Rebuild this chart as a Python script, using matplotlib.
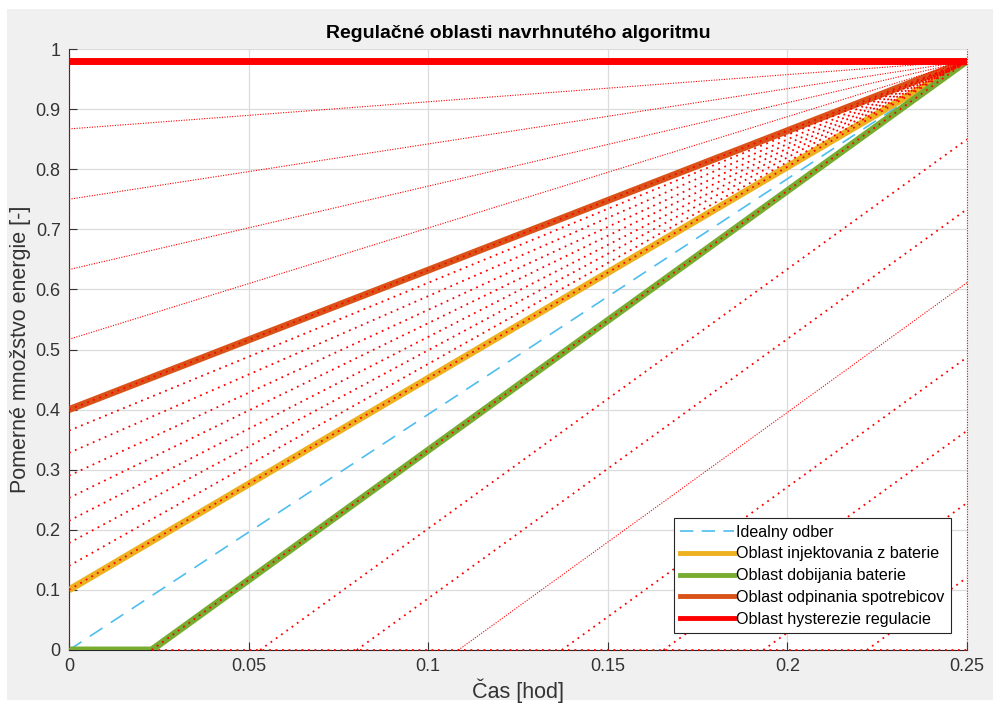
import numpy as np
import matplotlib.pyplot as plt
from matplotlib.patches import Rectangle

plt.rcParams['font.family'] = ['Liberation Sans', 'DejaVu Sans']

# end point of every region (time, energy)
t_end = 0.25
e_max = 0.98

# thick region borders
ideal_start = 0.0           # energy at t = 0
inject_start = 0.10         # energy at t = 0
disconnect_start = 0.40     # energy at t = 0
charge_t0 = 0.023           # time where charging line leaves zero

# dotted helper lines from the left edge (energy at t = 0)
fan_fine = [0.517, 0.633, 0.75, 0.867]
fan_coarse = [0.10, 0.14, 0.178, 0.215, 0.253, 0.29, 0.328, 0.365]

# dotted helper lines from the bottom edge (time at energy = 0), parallel to charging line
charge_fine = [0.1084]
charge_coarse = [0.023, 0.0532, 0.0801, 0.1372, 0.1655, 0.1933, 0.2221]

legend_labels = ['Idealny odber', 'Oblast injektovania z baterie', 'Oblast dobijania baterie',
                 'Oblast odpinania spotrebicov', 'Oblast hysterezie regulacie']

fig = plt.figure(figsize=(9.93, 7.04), dpi=100, facecolor='white')
fig.patches.append(Rectangle((7 / 993, 4 / 704), 1, 1 - 13 / 704, transform=fig.transFigure,
                             facecolor='#f0f0f0', edgecolor='none', zorder=-10))
ax = fig.add_axes([69 / 993, 1 - 650 / 704, 898 / 993, 601 / 704])
ax.set_facecolor('white')
ax.set_zorder(1)

fine = (0, (1, 1.3))
coarse = (0, (1, 2.6))
red = '#ff0000'
charge_slope = e_max / (t_end - charge_t0)

# thick lines
ax.plot([0, t_end], [ideal_start, e_max], color='#4dbeee', lw=1.2, ls=(0, (9, 6)), zorder=3)
ax.plot([0, t_end], [inject_start, e_max], color='#edb120', lw=5, zorder=3, solid_capstyle='butt')
ax.plot([0, charge_t0, t_end], [0, 0, e_max], color='#77ac30', lw=5, zorder=3, solid_capstyle='butt')
ax.plot([0, t_end], [disconnect_start, e_max], color='#d95319', lw=5, zorder=3, solid_capstyle='butt')
ax.plot([0, t_end], [e_max, e_max], color=red, lw=5, zorder=3, solid_capstyle='butt')

# dotted fan lines
for y0 in fan_fine:
    ax.plot([0, t_end], [y0, e_max], color=red, lw=0.8, ls=fine, zorder=4)
for y0 in fan_coarse + [disconnect_start]:
    ax.plot([0, t_end], [y0, e_max], color=red, lw=1.3, ls=coarse, zorder=4)

# dotted charging lines
for t0 in charge_fine:
    ax.plot([t0, t_end], [0, charge_slope * (t_end - t0)], color=red, lw=0.8, ls=fine, zorder=4)
for t0 in charge_coarse:
    ax.plot([t0, t_end], [0, charge_slope * (t_end - t0)], color=red, lw=1.3, ls=coarse, zorder=4)

# border lines
ax.plot([0, 0], [0, 1], color=red, lw=0.8, ls=fine, zorder=5, clip_on=False)
ax.plot([t_end, t_end], [0, 1], color=red, lw=0.8, ls=fine, zorder=5, clip_on=False)
ax.plot([charge_t0, t_end], [0, 0], color=red, lw=1.3, ls=coarse, zorder=5, clip_on=False)

ax.set_xlim(0, 0.25)
ax.set_ylim(0, 1)
ax.set_xticks([0, 0.05, 0.1, 0.15, 0.2, 0.25])
ax.set_xticklabels(['0', '0.05', '0.1', '0.15', '0.2', '0.25'])
ax.set_yticks(np.arange(0, 1.01, 0.1))
ax.set_yticklabels(['0', '0.1', '0.2', '0.3', '0.4', '0.5', '0.6', '0.7', '0.8', '0.9', '1'])
ax.tick_params(direction='in', length=6, width=0.8, colors='#333333', labelsize=13, pad=6)
ax.grid(True, color='#dcdcdc', lw=0.9)
ax.set_axisbelow(True)
for side in ['top', 'right']:
    ax.spines[side].set_visible(False)
for side in ['left', 'bottom']:
    ax.spines[side].set_color('#262626')
    ax.spines[side].set_linewidth(0.8)

ax.set_title('Regulačné oblasti navrhnutého algoritmu', fontsize=14, fontweight='bold', pad=8)
ax.set_ylabel('Pomerné množstvo energie [-]', fontsize=15.5, color='#333333', labelpad=3)
ax.set_xlabel('Čas [hod]', fontsize=15.5, color='#333333', labelpad=2)

handles = [
    plt.Line2D([], [], color='#4dbeee', lw=1.2, ls=(0, (8, 5))),
    plt.Line2D([], [], color='#edb120', lw=3.5),
    plt.Line2D([], [], color='#77ac30', lw=3.5),
    plt.Line2D([], [], color='#d95319', lw=3.5),
    plt.Line2D([], [], color=red, lw=3.5),
]
leg = ax.legend(handles, legend_labels, loc='lower right', bbox_to_anchor=(0.982, 0.028),
                fontsize=11.6, fancybox=False, framealpha=1, edgecolor='#262626',
                handlelength=3.3, handletextpad=0.15, borderpad=0.4, labelspacing=0.42,
                borderaxespad=0)
leg.get_frame().set_linewidth(0.8)
leg.set_zorder(10)

fig.savefig('out.png', dpi=100, facecolor=fig.get_facecolor())
